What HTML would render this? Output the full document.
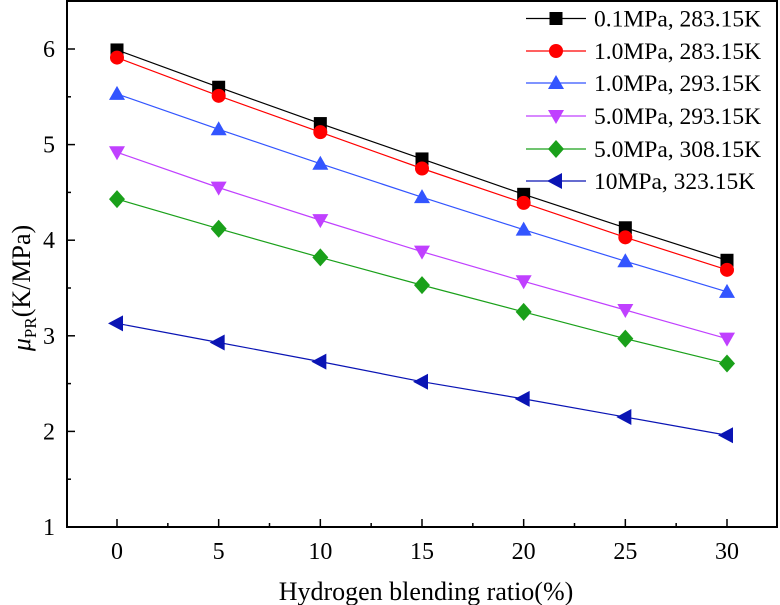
<!DOCTYPE html>
<html><head><meta charset="utf-8"><style>
body{margin:0;background:#fff}
svg{display:block;font-family:"Liberation Serif",serif}
</style></head><body>
<svg id="chart" width="780" height="605"></svg>
<script>
const xCats=[0,5,10,15,20,25,30];
const xTicks=[0,5,10,15,20,25,30];
const yTicks=[1,2,3,4,5,6];
const sBlack=[5.99,5.60,5.22,4.85,4.48,4.13,3.79];
const sRed=[5.91,5.51,5.13,4.75,4.39,4.03,3.69];
const sBlue=[5.53,5.16,4.80,4.45,4.11,3.78,3.46];
const sMagenta=[4.92,4.55,4.21,3.88,3.57,3.27,2.97];
const sGreen=[4.43,4.12,3.82,3.53,3.25,2.97,2.71];
const sNavy=[3.13,2.93,2.73,2.52,2.34,2.15,1.96];
const labels=["0.1MPa, 283.15K","1.0MPa, 283.15K","1.0MPa, 293.15K","5.0MPa, 293.15K","5.0MPa, 308.15K","10MPa, 323.15K"];
const NS="http://www.w3.org/2000/svg";
const svg=document.getElementById('chart');
const L=67,R=777,T=1,B=527;
const xs=v=>117+(v-0)*(727-117)/30;
const ys=v=>527-(v-1)*(527-49)/5;
function mk(tag,at,parent){const e=document.createElementNS(NS,tag);for(const k in at)e.setAttribute(k,at[k]);(parent||svg).appendChild(e);return e;}
let e;
e=mk('rect',{x:L,y:T,width:R-L,height:B-T,fill:'none',stroke:'#000','stroke-width':2});


for(let i=0;i<xTicks.length;i++){const x=xs(xTicks[i]);
 e=mk('line',{x1:x,x2:x,y1:B,y2:B-8,stroke:'#000','stroke-width':1.5});
 
 
 e=mk('text',{x:x,y:559,'text-anchor':'middle','font-size':24});e.textContent=xTicks[i];
 
 
 if(i<xTicks.length-1){const xm=xs(xTicks[i]+2.5);
  e=mk('line',{x1:xm,x2:xm,y1:B,y2:B-4,stroke:'#000','stroke-width':1.5});
  
  }
}
for(let i=0;i<yTicks.length;i++){const y=ys(yTicks[i]);
 e=mk('line',{x1:L,x2:L+8,y1:y,y2:y,stroke:'#000','stroke-width':1.5});
 
 
 e=mk('text',{x:55,y:y+8,'text-anchor':'end','font-size':24});e.textContent=yTicks[i];
 
 
 const ym=ys(yTicks[i]+0.5);
 e=mk('line',{x1:L,x2:L+4,y1:ym,y2:ym,stroke:'#000','stroke-width':1.5});
 
 
}
e=mk('text',{x:426,y:600,'text-anchor':'middle','font-size':26});e.textContent='Hydrogen blending ratio(%)';


e=mk('text',{transform:'translate(30,288) rotate(-90)','text-anchor':'middle','font-size':26});
e.innerHTML='<tspan font-style="italic">μ</tspan><tspan font-size="17" dy="6">PR</tspan><tspan dy="-6">(K/MPa)</tspan>';


function marker(g,type,x,y,c){const s=6.5;
 if(type==='sq')return mk('rect',{x:x-s,y:y-s,width:2*s,height:2*s,fill:c},g);
 if(type==='ci')return mk('circle',{cx:x,cy:y,r:7,fill:c},g);
 if(type==='up')return mk('polygon',{points:`${x},${y-8} ${x-8},${y+6} ${x+8},${y+6}`,fill:c},g);
 if(type==='dn')return mk('polygon',{points:`${x},${y+8} ${x-8},${y-6} ${x+8},${y-6}`,fill:c},g);
 if(type==='di')return mk('polygon',{points:`${x},${y-9} ${x+8},${y} ${x},${y+9} ${x-8},${y}`,fill:c},g);
 return mk('polygon',{points:`${x-9},${y} ${x+6},${y-8} ${x+6},${y+8}`,fill:c},g);}
const series=[sBlack,sRed,sBlue,sMagenta,sGreen,sNavy];
const colors=['#000','#ff0000','#3355ff','#c040ff','#1aa01a','#0a14b4'];
const types=['sq','ci','up','dn','di','le'];
series.forEach((s,k)=>{
 const g=mk('g',{});
 
 
 e=mk('polyline',{points:s.map((v,i)=>xs(xCats[i])+','+ys(v)).join(' '),fill:'none',stroke:colors[k],'stroke-width':1.2},g);
 
 
 s.forEach((v,i)=>{e=marker(g,types[k],xs(xCats[i]),ys(v),colors[k]);
  
  });
 const ly=[18.5,51,83,116,149,181][k];
 const lg=mk('g',{});
 
 
 mk('line',{x1:526,x2:586,y1:ly,y2:ly,stroke:colors[k],'stroke-width':1.2},lg);
 marker(lg,types[k],556,ly,colors[k]);
 const t=mk('text',{x:594,y:ly+8,'font-size':23.5},lg);t.textContent=labels[k];
});
</script>
</body></html>
